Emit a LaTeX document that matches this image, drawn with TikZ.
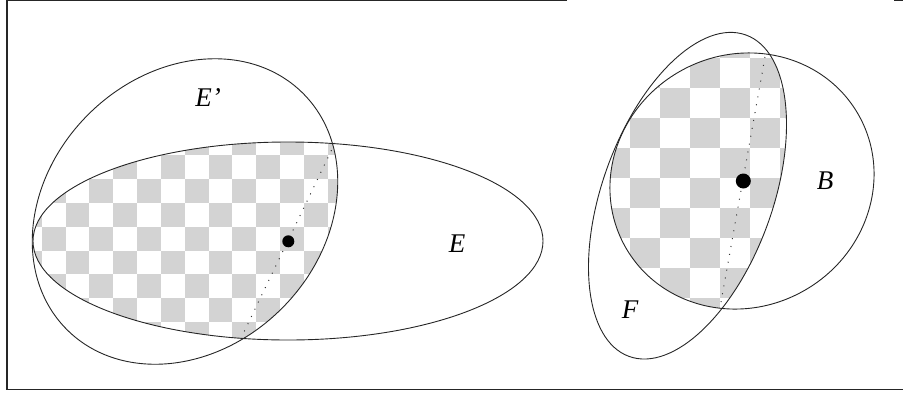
\documentclass[tikz,border=0pt]{standalone}
\usepackage{fontspec}
\setmainfont{Liberation Serif}
\definecolor{chkgrey}{RGB}{211,211,211}
\begin{document}
\begin{tikzpicture}[x=1pt,y=-1pt,
  chk/.style={fill=chkgrey},
  curve/.style={line width=0.9pt, draw=black!85},
  frameline/.style={line width=1.2pt, draw=black!85},
  dotline/.style={line width=1pt, dash pattern=on 1pt off 7pt, draw=black!80},
  dotmark/.style={circle, fill=black, inner sep=0pt},
  lbl/.style={font=\fontsize{27}{32}\selectfont\itshape, inner sep=0pt}]
\useasboundingbox (0,0) rectangle (903,392);
% frame
\draw[frameline] (567,0.6) -- (7,0.6) -- (7,389.8) -- (903,389.8);
\draw[frameline] (894,0.6) -- (903,0.6);
% left checkerboard (E cap E')
\begin{scope}
  \clip[shift={(288,241)}] (0,0) ellipse [x radius=255pt, y radius=99pt];
  \clip[shift={(185,211.5)}, rotate=45] (0,0) ellipse [x radius=167pt, y radius=137pt];
  \foreach \ii in {0,...,15} {
    \foreach \jj in {0,...,9} {
      \pgfmathtruncatemacro\pty{mod(\ii+\jj,2)}
      \ifnum\pty=1
        \fill[chk] (18+23.83*\ii,131.5+23.83*\jj) rectangle ++(23.83,23.83);
      \fi
    }
  }
\end{scope}
% right checkerboard (B cap F)
\begin{scope}
  \clip[shift={(742,181)}, rotate=30] (0,0) ellipse [x radius=134pt, y radius=126pt];
  \clip[shift={(687.5,195.7)}, rotate=70] (0,0) ellipse [x radius=171pt, y radius=85pt];
  \foreach \ii in {0,...,7} {
    \foreach \jj in {0,...,10} {
      \pgfmathtruncatemacro\pty{mod(\ii+\jj,2)}
      \ifnum\pty=0
        \fill[chk] (600+30*\ii,28.3+30*\jj) rectangle ++(30,30);
      \fi
    }
  }
\end{scope}
% ellipses
\draw[curve, shift={(288,241)}] (0,0) ellipse [x radius=255pt, y radius=99pt];
\draw[curve, shift={(185,211.5)}, rotate=45] (0,0) ellipse [x radius=167pt, y radius=137pt];
\draw[curve, shift={(742,181)}, rotate=30] (0,0) ellipse [x radius=134pt, y radius=126pt];
\draw[curve, shift={(687.5,195.7)}, rotate=70] (0,0) ellipse [x radius=171pt, y radius=85pt];
% dotted chords
\coordinate (L1) at (335,143);
\coordinate (L2) at (243,334);
\coordinate (R1) at (765,57);
\coordinate (R2) at (721,302);
\draw[dotline] (L1) -- (L2);
\draw[dotline] (R1) -- (R2);
% points
\node[dotmark, minimum size=12pt] (pL) at (288.3,241.3) {};
\node[dotmark, minimum size=15pt] (pR) at (743.3,181) {};
% labels
\node[lbl] (lEp) at (208,98) {E'};
\node[lbl] (lE) at (457,244) {E};
\node[lbl] (lB) at (825,181) {B};
\node[lbl] (lF) at (630,310) {F};
\end{tikzpicture}
\end{document}
